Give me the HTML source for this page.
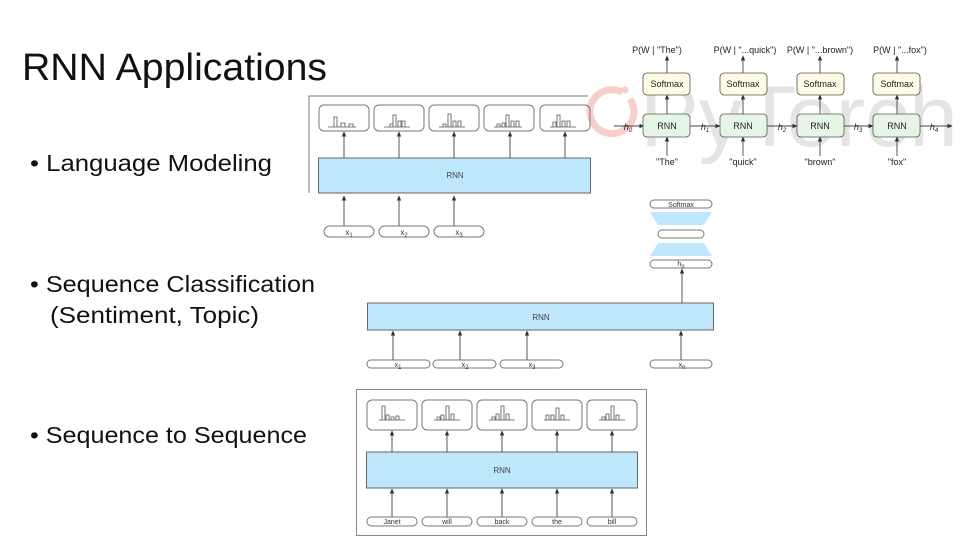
<!DOCTYPE html>
<html><head><meta charset="utf-8"><style>
html,body{margin:0;padding:0;background:#fff;}
svg{display:block;font-family:"Liberation Sans",sans-serif;}
</style></head><body>
<svg width="960" height="540" viewBox="0 0 960 540" xmlns="http://www.w3.org/2000/svg">
<defs>
<marker id="ah" markerWidth="6" markerHeight="6" refX="3" refY="3" orient="auto"><path d="M0,0.5 L6,3 L0,5.5 z" fill="#333"/></marker>
</defs>
<!-- PyTorch watermark -->
<path d="M622,92 A22,22 0 1 0 630,99" fill="none" stroke="#f6cfc9" stroke-width="7"/>
<circle cx="625" cy="90" r="3.5" fill="#f6cfc9"/>
<text x="640" y="146" font-size="86" fill="#e4e4e4" textLength="318" lengthAdjust="spacingAndGlyphs">PyTorch</text>

<!-- Title & bullets -->
<text x="22" y="80" font-size="38" fill="#111" textLength="305" lengthAdjust="spacingAndGlyphs">RNN Applications</text>
<g font-size="23" fill="#111">
<text x="30" y="171" textLength="242" lengthAdjust="spacingAndGlyphs">• Language Modeling</text>
<text x="30" y="292" textLength="285" lengthAdjust="spacingAndGlyphs">• Sequence Classification</text>
<text x="50" y="323" textLength="209" lengthAdjust="spacingAndGlyphs">(Sentiment, Topic)</text>
<text x="30" y="443" textLength="277" lengthAdjust="spacingAndGlyphs">• Sequence to Sequence</text>
</g>

<!-- Diagram 1 -->
<g stroke="#777" fill="none">
<path d="M309,193 V96 H588"/>
<rect x="319" y="105" width="50" height="26" rx="5"/>
<rect x="374" y="105" width="50" height="26" rx="5"/>
<rect x="429" y="105" width="50" height="26" rx="5"/>
<rect x="484" y="105" width="50" height="26" rx="5"/>
<rect x="540" y="105" width="50" height="26" rx="5"/>
</g>
<g stroke="#555" stroke-width="0.8" fill="none">
<path d="M334,127 V117 h3 v10 h4 v-4 h4 v4 h4 v-3 h4 v3 M328,127 h28"/>
<path d="M384,127 h26 M390,127 v-3 h3 v3 M393,127 v-12 h3 v12 M398,127 v-6 h3 v6 M402,127 v-6 h3 v6"/>
<path d="M439,127 h26 M443,127 v-3 h3 v3 M448,127 v-13 h3 v13 M453,127 v-6 h3 v6 M458,127 v-6 h3 v6"/>
<path d="M494,127 h28 M497,127 v-3 h3 v3 M502,127 v-4 h3 v4 M506,127 v-12 h3 v12 M511,127 v-6 h3 v6 M516,127 v-6 h3 v6"/>
<path d="M550,127 h26 M553,127 v-5 h3 v5 M557,127 v-12 h3 v12 M562,127 v-6 h3 v6 M567,127 v-6 h3 v6"/>
</g>
<rect x="318.5" y="158" width="272" height="35" fill="#bfe7fb" stroke="#666"/>
<text x="455" y="178" font-size="8" fill="#444" text-anchor="middle">RNN</text>
<g stroke="#444" stroke-width="0.9" marker-end="url(#ah)">
<line x1="344" y1="158" x2="344" y2="134"/><line x1="399" y1="158" x2="399" y2="134"/>
<line x1="454" y1="158" x2="454" y2="134"/><line x1="510" y1="158" x2="510" y2="134"/>
<line x1="565" y1="158" x2="565" y2="134"/>
<line x1="344" y1="226" x2="344" y2="198"/><line x1="399" y1="226" x2="399" y2="198"/>
<line x1="454" y1="226" x2="454" y2="198"/>
</g>
<g stroke="#777" fill="#fff">
<rect x="324" y="226" width="50" height="11" rx="5.5"/>
<rect x="379" y="226" width="50" height="11" rx="5.5"/>
<rect x="434" y="226" width="50" height="11" rx="5.5"/>
</g>
<g font-size="8" fill="#333" text-anchor="middle">
<text x="349" y="235">x<tspan font-size="6" dy="2">1</tspan></text>
<text x="404" y="235">x<tspan font-size="6" dy="2">2</tspan></text>
<text x="459" y="235">x<tspan font-size="6" dy="2">3</tspan></text>
</g>

<!-- Top-right diagram -->
<g font-size="9" fill="#222" text-anchor="middle">
<text x="657" y="53">P(W | "The")</text>
<text x="745" y="53">P(W | "...quick")</text>
<text x="820" y="53">P(W | "...brown")</text>
<text x="900" y="53">P(W | "...fox")</text>
<text x="667" y="165">"The"</text>
<text x="743" y="165">"quick"</text>
<text x="820" y="165">"brown"</text>
<text x="897" y="165">"fox"</text>
</g>
<g stroke="#444" stroke-width="0.9" marker-end="url(#ah)">
<line x1="667" y1="73" x2="667" y2="58"/><line x1="743" y1="73" x2="743" y2="58"/>
<line x1="820" y1="73" x2="820" y2="58"/><line x1="897" y1="73" x2="897" y2="58"/>
<line x1="667" y1="114" x2="667" y2="97"/><line x1="743" y1="114" x2="743" y2="97"/>
<line x1="820" y1="114" x2="820" y2="97"/><line x1="897" y1="114" x2="897" y2="97"/>
<line x1="667" y1="156" x2="667" y2="139"/><line x1="743" y1="156" x2="743" y2="139"/>
<line x1="820" y1="156" x2="820" y2="139"/><line x1="897" y1="156" x2="897" y2="139"/>
<line x1="614" y1="126" x2="642" y2="126"/><line x1="690" y1="126" x2="718" y2="126"/>
<line x1="767" y1="126" x2="795" y2="126"/><line x1="843" y1="126" x2="871" y2="126"/>
<line x1="920" y1="126" x2="950" y2="126"/>
</g>
<g stroke="#555" stroke-width="0.8">
<rect x="643" y="73" width="47" height="22" rx="4" fill="#fdfbe3"/>
<rect x="720" y="73" width="47" height="22" rx="4" fill="#fdfbe3"/>
<rect x="797" y="73" width="47" height="22" rx="4" fill="#fdfbe3"/>
<rect x="873" y="73" width="47" height="22" rx="4" fill="#fdfbe3"/>
<rect x="643" y="114" width="47" height="23" rx="4" fill="#e6f6e4"/>
<rect x="720" y="114" width="47" height="23" rx="4" fill="#e6f6e4"/>
<rect x="797" y="114" width="47" height="23" rx="4" fill="#e6f6e4"/>
<rect x="873" y="114" width="47" height="23" rx="4" fill="#e6f6e4"/>
</g>
<g font-size="9" fill="#222" text-anchor="middle">
<text x="667" y="87">Softmax</text><text x="743" y="87">Softmax</text>
<text x="820" y="87">Softmax</text><text x="897" y="87">Softmax</text>
<text x="667" y="129">RNN</text><text x="743" y="129">RNN</text>
<text x="820" y="129">RNN</text><text x="897" y="129">RNN</text>
<g font-style="italic">
<text x="628" y="130">h<tspan font-size="6" dy="2">0</tspan></text>
<text x="705" y="130">h<tspan font-size="6" dy="2">1</tspan></text>
<text x="782" y="130">h<tspan font-size="6" dy="2">2</tspan></text>
<text x="858" y="130">h<tspan font-size="6" dy="2">3</tspan></text>
<text x="934" y="130">h<tspan font-size="6" dy="2">4</tspan></text>
</g>
</g>

<!-- Diagram 2 -->
<g stroke="#777" fill="#fff">
<rect x="650" y="200" width="62" height="8" rx="4"/>
<rect x="658" y="230" width="46" height="8" rx="4"/>
<rect x="650" y="260" width="62" height="8" rx="4"/>
</g>
<path d="M650,212 H712 L704,225 H658 z" fill="#bfe7fb"/>
<path d="M658,243 H704 L712,256 H650 z" fill="#bfe7fb"/>
<text x="681" y="207" font-size="7" fill="#333" text-anchor="middle">Softmax</text>
<text x="681" y="266" font-size="7" fill="#333" text-anchor="middle">h<tspan font-size="6" dy="2">n</tspan></text>
<rect x="367.5" y="303" width="346" height="27" fill="#bfe7fb" stroke="#666"/>
<text x="541" y="320" font-size="8" fill="#444" text-anchor="middle">RNN</text>
<g stroke="#444" stroke-width="0.9" marker-end="url(#ah)">
<line x1="682" y1="303" x2="682" y2="271"/>
<line x1="393" y1="360" x2="393" y2="333"/><line x1="460" y1="360" x2="460" y2="333"/>
<line x1="527" y1="360" x2="527" y2="333"/><line x1="681" y1="360" x2="681" y2="333"/>
</g>
<g stroke="#777" fill="#fff">
<rect x="367" y="360" width="63" height="8" rx="4"/>
<rect x="433" y="360" width="63" height="8" rx="4"/>
<rect x="500" y="360" width="63" height="8" rx="4"/>
<rect x="650" y="360" width="62" height="8" rx="4"/>
</g>
<g font-size="7" fill="#333" text-anchor="middle">
<text x="398" y="367">x<tspan font-size="6" dy="2">1</tspan></text>
<text x="465" y="367">x<tspan font-size="6" dy="2">2</tspan></text>
<text x="532" y="367">x<tspan font-size="6" dy="2">3</tspan></text>
<text x="682" y="367">x<tspan font-size="6" dy="2">n</tspan></text>
</g>

<!-- Diagram 3 -->
<rect x="356.5" y="389.5" width="290" height="146" fill="none" stroke="#888"/>
<g stroke="#777" fill="none">
<rect x="367" y="400" width="50" height="30" rx="5"/>
<rect x="422" y="400" width="50" height="30" rx="5"/>
<rect x="477" y="400" width="50" height="30" rx="5"/>
<rect x="532" y="400" width="50" height="30" rx="5"/>
<rect x="587" y="400" width="50" height="30" rx="5"/>
</g>
<g stroke="#555" stroke-width="0.8" fill="none">
<path d="M379,420 h26 M382,420 v-14 h3 v14 M386,420 v-5 h3 v5 M391,420 v-3 h3 v3 M396,420 v-4 h3 v4"/>
<path d="M434,420 h26 M437,420 v-3 h3 v3 M441,420 v-5 h3 v5 M446,420 v-14 h3 v14 M451,420 v-6 h3 v6"/>
<path d="M489,420 h26 M492,420 v-3 h3 v3 M496,420 v-6 h3 v6 M501,420 v-14 h3 v14 M506,420 v-6 h3 v6"/>
<path d="M544,420 h26 M546,420 v-5 h3 v5 M551,420 v-5 h3 v5 M556,420 v-12 h3 v12 M561,420 v-5 h3 v5"/>
<path d="M599,420 h26 M602,420 v-3 h3 v3 M606,420 v-6 h3 v6 M611,420 v-14 h3 v14 M616,420 v-5 h3 v5"/>
</g>
<rect x="366.5" y="452" width="271" height="36" fill="#bfe7fb" stroke="#666"/>
<text x="502" y="473" font-size="8" fill="#444" text-anchor="middle">RNN</text>
<g stroke="#444" stroke-width="0.9" marker-end="url(#ah)">
<line x1="392" y1="452" x2="392" y2="433"/><line x1="447" y1="452" x2="447" y2="433"/>
<line x1="502" y1="452" x2="502" y2="433"/><line x1="557" y1="452" x2="557" y2="433"/>
<line x1="612" y1="452" x2="612" y2="433"/>
<line x1="392" y1="517" x2="392" y2="491"/><line x1="447" y1="517" x2="447" y2="491"/>
<line x1="502" y1="517" x2="502" y2="491"/><line x1="557" y1="517" x2="557" y2="491"/>
<line x1="612" y1="517" x2="612" y2="491"/>
</g>
<g stroke="#777" fill="#fff">
<rect x="367" y="517" width="50" height="9" rx="4.5"/>
<rect x="422" y="517" width="50" height="9" rx="4.5"/>
<rect x="477" y="517" width="50" height="9" rx="4.5"/>
<rect x="532" y="517" width="50" height="9" rx="4.5"/>
<rect x="587" y="517" width="50" height="9" rx="4.5"/>
</g>
<g font-size="7" fill="#333" text-anchor="middle">
<text x="392" y="524">Janet</text><text x="447" y="524">will</text>
<text x="502" y="524">back</text><text x="557" y="524">the</text><text x="612" y="524">bill</text>
</g>
</svg>
</body></html>
